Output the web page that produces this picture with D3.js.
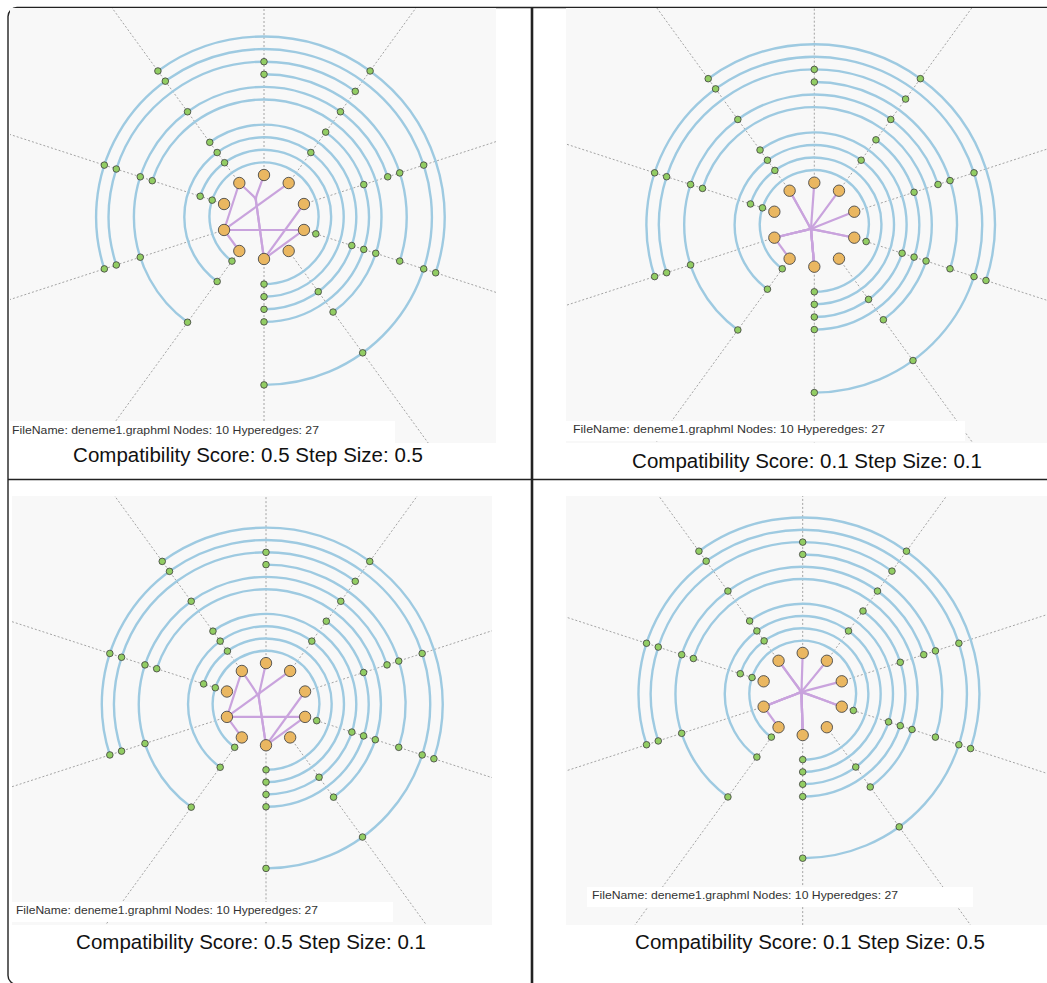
<!DOCTYPE html>
<html>
<head>
<meta charset="utf-8">
<script src="https://cdn.jsdelivr.net/npm/d3@7"></script>
<style>
  body { margin: 0; background: #fff; }
  svg { display: block; }
</style>
</head>
<body>
<svg id="fig" width="1047" height="983"></svg>
<script>
// ---- hypergraph data --------------------------------------------------
const fileName = "deneme1.graphml";
const nodeCount = 10;
const hyperedgeCount = 27;
const vertexIds = d3.range(nodeCount);

// hyperedges drawn as concentric rings: member vertices, innermost ring first
const ringMembers = [
  [8, 6, 3],
  [9, 8, 5],
  [1, 9, 6, 5],
  [9, 4, 3, 5],
  [1, 3, 2, 5],
  [8, 4, 3],
  [1, 9, 8, 7, 6, 2],
  [0, 3, 2],
  [0, 1, 8, 7],
  [9, 8, 7, 4, 3, 2, 5],
  [1, 9, 3]
];

// two-vertex hyperedges drawn inside the vertex ring
const pairEdges = [[9, 5], [0, 5], [7, 1], [7, 3], [7, 6], [7, 9], [5, 2], [5, 3]];

// edge-bundling runs
const compatibilityScores = [0.5, 0.1, 0.5, 0.1];
const stepSizes = [0.5, 0.1, 0.1, 0.5];
// which pair edges got bundled in each run, and where the bundle meets (vertex-ring units)
const bundledEdges = [[0, 1], [0, 1, 2, 3, 5, 6, 7], [0, 1], [0, 1, 2, 3, 5, 6, 7]];
const bundleHubs = [[-0.2, -0.45], [-0.08, 0.1], [-0.18, -0.2], [-0.03, -0.05]];

// ---- page layout ------------------------------------------------------
const panels = [
  { bg: [10, 8, 486, 435],  box: [10, 421, 385, 22],  textX: 12,  textY: 434, textLen: 307,
    cx: 264,   cy: 217,   k: 1,     titleX: 248, titleY: 462 },
  { bg: [566, 8, 481, 435], box: [566, 421, 399, 20], textX: 573, textY: 433, textLen: 312,
    cx: 814.3, cy: 224.7, k: 1,     titleX: 807, titleY: 468 },
  { bg: [12, 496, 480, 429], box: [12, 902, 381, 20], textX: 16, textY: 914, textLen: 302,
    cx: 266,   cy: 704.2, k: 0.978, titleX: 251, titleY: 949 },
  { bg: [566, 496, 481, 429], box: [587, 887, 386, 20], textX: 592, textY: 899, textLen: 306,
    cx: 802.7, cy: 694,   k: 0.978, titleX: 810, titleY: 949 }
];

const svg = d3.select("#fig");

// outer frame and cell dividers
const frame = svg.append("g").attr("fill", "none").attr("stroke", "#222").attr("stroke-width", 1.4);
frame.append("rect").attr("x", 8).attr("y", 7.5).attr("width", 1100).attr("height", 977).attr("rx", 9);
frame.append("line").attr("x1", 8).attr("x2", 1047).attr("y1", 479.5).attr("y2", 479.5);
frame.append("line").attr("x1", 532).attr("x2", 532).attr("y1", 7.5).attr("y2", 983).attr("stroke-width", 2.6);

const angle = d3.scaleLinear().domain([0, nodeCount]).range([0, 2 * Math.PI]);
// order in which rings sweep: from the bottom vertex counter-clockwise
const sweepPos = v => (nodeCount / 2 - v + nodeCount) % nodeCount;

panels.forEach((p, pi) => {
  const g = svg.append("g");
  const clipId = "clip" + pi;
  svg.append("clipPath").attr("id", clipId)
    .append("rect").attr("x", p.bg[0]).attr("y", p.bg[1]).attr("width", p.bg[2]).attr("height", p.bg[3]);

  g.append("rect").attr("x", p.bg[0]).attr("y", p.bg[1]).attr("width", p.bg[2]).attr("height", p.bg[3])
    .attr("fill", "#f8f8f8");

  const R = 42 * p.k;
  const ringR = d3.scaleLinear().domain([0, ringMembers.length - 1]).range([54.5 * p.k, 180.5 * p.k]);
  const pt = (v, r) => [p.cx + r * Math.sin(angle(v)), p.cy - r * Math.cos(angle(v))];

  const plot = g.append("g").attr("clip-path", `url(#${clipId})`);

  // spokes
  plot.append("g").selectAll("line").data(vertexIds).join("line")
    .attr("x1", v => pt(v, R)[0]).attr("y1", v => pt(v, R)[1])
    .attr("x2", v => pt(v, 800)[0]).attr("y2", v => pt(v, 800)[1])
    .attr("stroke", "#9a9a9a").attr("stroke-width", 0.9).attr("stroke-dasharray", "2,2");

  // ring hyperedges
  const ringPath = (members, i) => {
    const pos = members.map(sweepPos);
    const p0 = d3.min(pos), p1 = d3.max(pos);
    const vStart = members[pos.indexOf(p0)];
    const r = ringR(i);
    const a0 = angle(vStart) - Math.PI / 2;
    const a1 = a0 - angle(p1 - p0);
    const path = d3.path();
    const s = pt(vStart, r);
    path.moveTo(s[0], s[1]);
    path.arc(p.cx, p.cy, r, a0, a1, true);
    return path.toString();
  };
  plot.append("g").selectAll("path").data(ringMembers).join("path")
    .attr("d", ringPath)
    .attr("fill", "none").attr("stroke", "#9ecae1").attr("stroke-width", 2.4);

  // pair edges, some bundled toward a hub
  const hub = [p.cx + bundleHubs[pi][0] * R, p.cy + bundleHubs[pi][1] * R];
  const line = d3.line().curve(d3.curveBasis);
  plot.append("g").selectAll("path").data(pairEdges).join("path")
    .attr("d", (e, ei) => {
      const a = pt(e[0], R), b = pt(e[1], R);
      return bundledEdges[pi].includes(ei) ? line([a, hub, hub, b]) : line([a, b]);
    })
    .attr("fill", "none").attr("stroke", "#c9a3dd").attr("stroke-width", 2.2);

  // vertices
  plot.append("g").selectAll("circle").data(vertexIds).join("circle")
    .attr("cx", v => pt(v, R)[0]).attr("cy", v => pt(v, R)[1]).attr("r", 5.7)
    .attr("fill", "#eab761").attr("stroke", "#4a4a4a").attr("stroke-width", 0.9);

  // ring memberships
  const dots = ringMembers.flatMap((m, i) => m.map(v => ({ v, i })));
  plot.append("g").selectAll("circle").data(dots).join("circle")
    .attr("cx", d => pt(d.v, ringR(d.i))[0]).attr("cy", d => pt(d.v, ringR(d.i))[1]).attr("r", 3.3)
    .attr("fill", "#92cd63").attr("stroke", "#3d3d3d").attr("stroke-width", 0.8);

  // file info
  g.append("rect").attr("x", p.box[0]).attr("y", p.box[1]).attr("width", p.box[2]).attr("height", p.box[3])
    .attr("fill", "#fff");
  g.append("text").attr("x", p.textX).attr("y", p.textY)
    .attr("font-family", "Liberation Sans, Arial, sans-serif").attr("font-size", 10.5).attr("fill", "#333")
    .attr("textLength", p.textLen).attr("lengthAdjust", "spacingAndGlyphs")
    .text(`FileName: ${fileName} Nodes: ${nodeCount} Hyperedges: ${hyperedgeCount}`);

  // run title
  g.append("text").attr("x", p.titleX).attr("y", p.titleY).attr("text-anchor", "middle")
    .attr("font-family", "Liberation Sans, Arial, sans-serif").attr("font-size", 20.5).attr("fill", "#111")
    .text(`Compatibility Score: ${compatibilityScores[pi]} Step Size: ${stepSizes[pi]}`);
});
</script>
</body>
</html>
